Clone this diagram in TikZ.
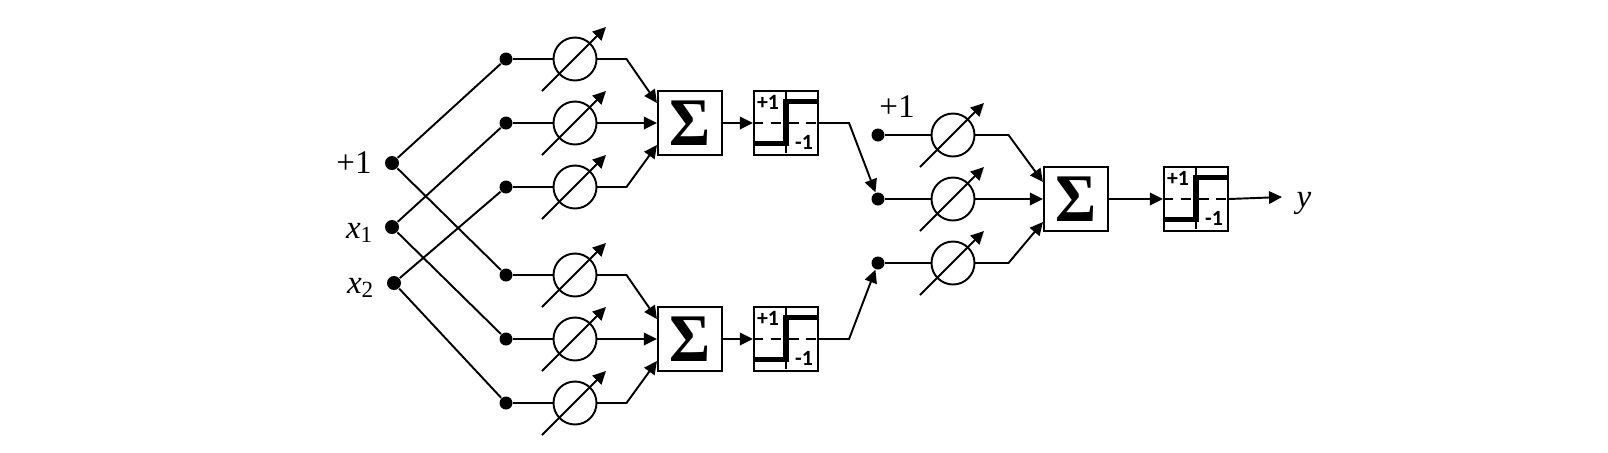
\documentclass[tikz,border=0pt]{standalone}
\usepackage{fontspec}
\setmainfont{Liberation Serif}
\newfontfamily\levelfont{Carlito}
\usetikzlibrary{arrows.meta,calc}
\newcommand{\sumsign}{\scalebox{1.05}[1.14]{Σ}}
\tikzset{
  net wire/.style={draw=black, line width=0.55pt},
  net arrow/.style={net wire, -{Triangle[length=1.3mm,width=1.25mm]}},
  net dot/.style={circle, fill=black, minimum size=1.3mm, inner sep=0pt},
  net input/.style={circle, fill=black, minimum size=1.4mm, inner sep=0pt},
  net weight/.style={circle, draw=black, line width=0.55pt, minimum size=4.3mm, inner sep=0pt},
  net sum/.style={rectangle, draw=black, line width=0.6pt, minimum size=6.4mm, inner sep=0pt,
    font=\fontsize{17}{17}\selectfont\bfseries},
  net step/.style={rectangle, draw=black, line width=0.6pt, minimum size=6.4mm, inner sep=0pt},
  net level/.style={inner sep=0pt, font=\levelfont\bfseries\fontsize{6.2}{6.2}\selectfont},
  net label/.style={inner sep=0pt, font=\fontsize{9.4}{9.4}\selectfont},
}

\begin{document}
\begin{tikzpicture}[x=0.1mm, y=-0.1mm]
  \useasboundingbox (0,0) rectangle (1608,452);

  % Inputs
  \node[net input] (one) at (392,163) {};
  \node[net input] (xa) at (392,227) {};
  \node[net input] (xb) at (394,283) {};
  \node[net label] (oneText) at (354,163) {+1};
  \node[net label] (xaText) at (360,233) {\textit{x}\textsubscript{1}};
  \node[net label] (xbText) at (361,288) {\textit{x}\textsubscript{2}};

  % Summing boxes
  \node[net sum] (sumA) at (690,123) {\sumsign};
  \node[net sum] (sumB) at (690,339) {\sumsign};
  \node[net sum] (sumC) at (1076,199) {\sumsign};

  % Threshold boxes
  \foreach \name/\x/\y in {stepA/786/123,stepB/786/339,stepC/1196/199} {
    \node[net step] (\name) at (\x,\y) {};
    \draw[net wire, densely dashed] (\name.west) -- (\name.east);
    \draw[net wire, densely dashed] (\name.north) -- (\name.south);
    \draw[draw=black, line width=1.6pt] ($(\name.west)+(0,20.5)$) -- ($(\name)+(0,20.5)$)
      -- ($(\name)+(0,-21.5)$) -- ($(\name.east)+(0,-21.5)$);
    \node[net level] (\name Up) at ($(\name)+(-18,-21)$) {+1};
    \node[net level] (\name Down) at ($(\name)+(18,19)$) {-1};
  }

  % Weights, first stage
  \foreach \name/\y in {a/59,b/123,c/187,d/275,e/339,f/403} {
    \node[net dot] (dot\name) at (506,\y) {};
    \node[net weight] (phi\name) at (575,\y) {};
    \draw[net wire] (dot\name) -- (phi\name);
    \draw[net arrow] ($(phi\name)+(-33,32)$) -- ($(phi\name)+(31,-32)$);
  }

  % Weights, second stage
  \foreach \name/\y in {g/135,h/199,i/263} {
    \node[net dot] (dot\name) at (878,\y) {};
    \node[net weight] (phi\name) at (953,\y) {};
    \draw[net wire] (dot\name) -- (phi\name);
    \draw[net arrow] ($(phi\name)+(-33,32)$) -- ($(phi\name)+(31,-32)$);
  }
  \node[net label] (oneBText) at (897,107) {+1};

  % Input fan-out
  \foreach \from/\to in {one/a,one/d,xa/b,xa/e,xb/c,xb/f}
    \draw[net wire] (\from) -- (dot\to);

  % Into the summing boxes
  \foreach \name/\target/\run/\off in {a/sumA/30/-20,c/sumA/30/22,d/sumB/30/-20,f/sumB/30/22,g/sumC/34/-17,i/sumC/34/23}
    \draw[net arrow] (phi\name) ++(21.5,0) -- ++(\run,0) -- ($(\target.west)+(0,\off)$);
  \foreach \name/\target in {b/sumA,e/sumB,h/sumC}
    \draw[net arrow] (phi\name) -- (\target);

  % Outputs
  \foreach \from/\to in {sumA/stepA,sumB/stepB,sumC/stepC}
    \draw[net arrow] (\from) -- (\to);
  \draw[net arrow] (stepA.east) -- ++(30,0) -- (doth);
  \draw[net arrow] (stepB.east) -- ++(30,0) -- (doti);
  \coordinate (outEnd) at (1282,197);
  \draw[net arrow] (stepC.east) -- (outEnd);
  \node[net label] (outText) at (1304,203) {\textit{y}};
\end{tikzpicture}
\end{document}
